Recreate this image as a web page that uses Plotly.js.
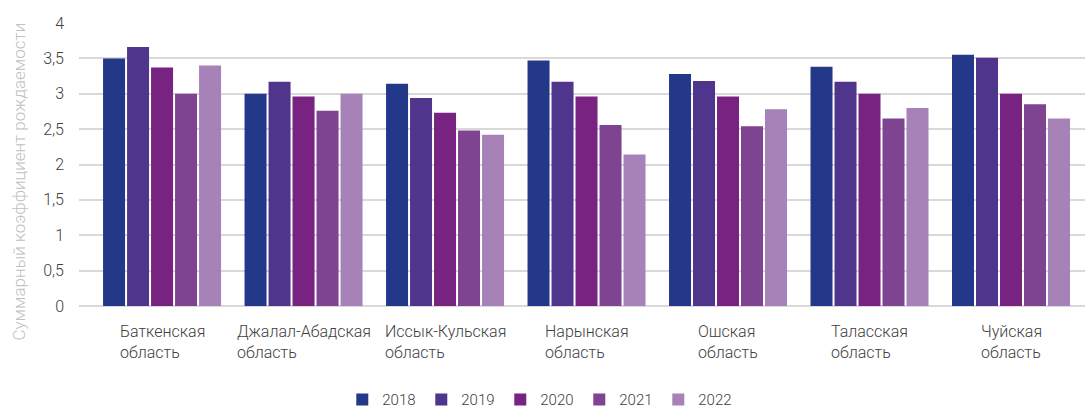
<!DOCTYPE html>
<html>
<head>
<meta charset="utf-8">
<script src="https://cdn.plot.ly/plotly-3.0.1.min.js"></script>
<style>html,body{margin:0;padding:0;background:#fff;}#chart{width:1085px;height:408px;}</style>
</head>
<body>
<div id="chart"></div>
<script>
const categories = ["Баткенская область", "Джалал-Абадская область", "Иссык-Кульская область", "Нарынская область", "Ошская область", "Таласская область", "Чуйская область"];
const categoryLabels = ["Баткенская<br>область", "Джалал-Абадская<br>область", "Иссык-Кульская<br>область", "Нарынская<br>область", "Ошская<br>область", "Таласская<br>область", "Чуйская<br>область"];
const years = ["2018", "2019", "2020", "2021", "2022"];
const v2018 = [3.5, 3.0, 3.14, 3.47, 3.28, 3.38, 3.55];
const v2019 = [3.66, 3.17, 2.94, 3.17, 3.18, 3.17, 3.51];
const v2020 = [3.37, 2.96, 2.73, 2.96, 2.96, 3.0, 3.0];
const v2021 = [3.0, 2.76, 2.48, 2.56, 2.54, 2.65, 2.85];
const v2022 = [3.4, 3.0, 2.42, 2.14, 2.78, 2.8, 2.65];
const colors = ["#24388A", "#4F358B", "#782282", "#7E4391", "#A782B8"];
const yTitle = "Суммарный коэффициент рождаемости";

const FONT = "Roboto, sans-serif";
const series = [v2018, v2019, v2020, v2021, v2022];
const traces = series.map((vals, i) => ({
  type: "bar",
  name: years[i],
  x: categories,
  y: vals,
  marker: {color: colors[i]},
  hoverinfo: "y"
}));

const annotations = categories.map((c, i) => ({
  x: c, xref: "x", y: 0, yref: "paper",
  xanchor: "center", yanchor: "top", align: "left",
  yshift: -14,
  text: categoryLabels[i], showarrow: false,
  font: {family: FONT, size: 16, weight: 300, color: "#404040"}
}));
annotations.push({
  x: -0.0596, xref: "paper", y: 0.44, yref: "paper",
  xanchor: "center", yanchor: "middle", textangle: -90,
  text: yTitle, showarrow: false,
  font: {family: FONT, size: 17, weight: 300, color: "#BFBFBF"}
});

const layout = {
  width: 1085, height: 408,
  margin: {l: 79, r: 0, t: 23, b: 102, pad: 0},
  paper_bgcolor: "#fff", plot_bgcolor: "#fff",
  separators: ", ",
  barmode: "group",
  bargap: 0.152,
  bargroupgap: 0.083,
  font: {family: FONT, size: 15, color: "#404040"},
  xaxis: {
    type: "category",
    range: [-0.587, 6.523],
    showticklabels: false,
    showgrid: false, zeroline: false, showline: false, ticks: ""
  },
  yaxis: {
    range: [0, 4], dtick: 0.5, tick0: 0,
    showgrid: true, gridcolor: "#D9D9D9", gridwidth: 2,
    zeroline: true, zerolinecolor: "#D9D9D9", zerolinewidth: 2,
    showline: false, ticks: "",
    ticklabelstandoff: 14,
    tickfont: {family: FONT, size: 16, weight: 300, color: "#404040"},
    automargin: false
  },
  legend: {
    orientation: "h",
    xref: "container", yref: "container",
    x: 0.4975, xanchor: "center",
    y: 0.02, yanchor: "middle",
    entrywidth: 34,
    font: {family: FONT, size: 15, weight: 300, color: "#404040"},
    traceorder: "normal"
  },
  annotations: annotations,
  showlegend: true
};

Plotly.newPlot("chart", traces, layout, {displayModeBar: false, staticPlot: true});
</script>
</body>
</html>
